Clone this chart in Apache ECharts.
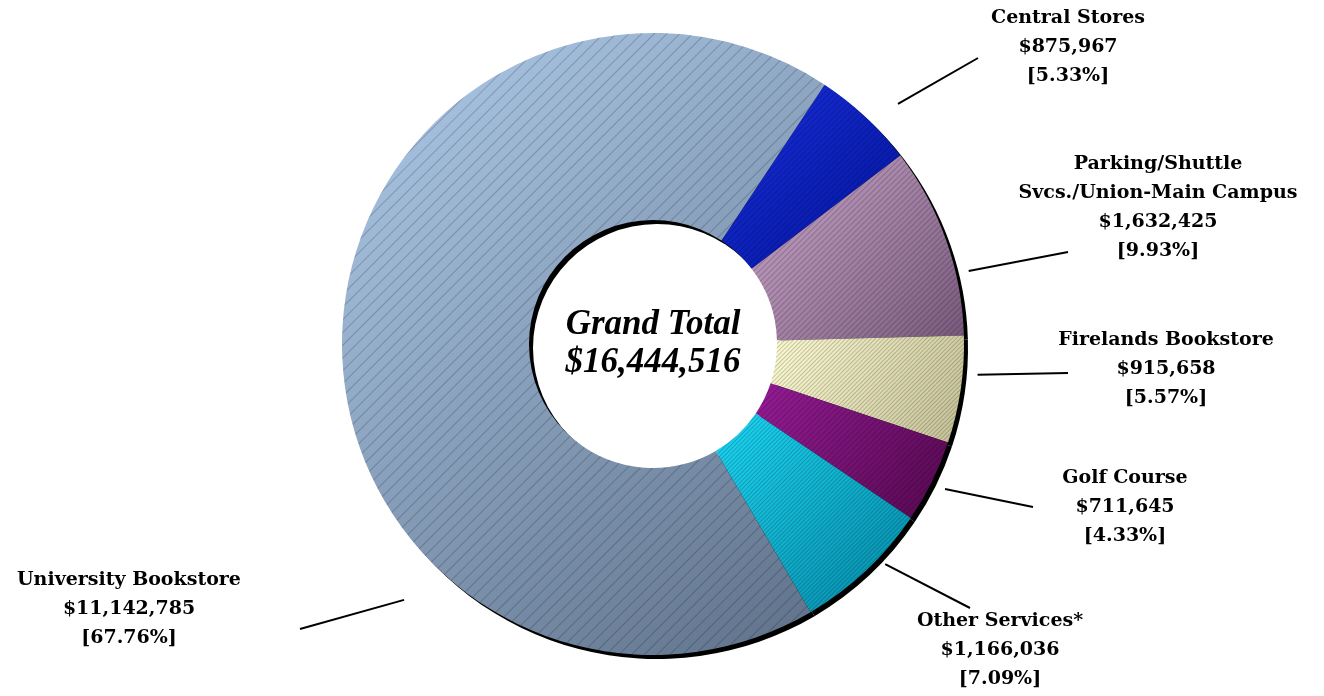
<!DOCTYPE html>
<html>
<head>
<meta charset="utf-8">
<script src="https://cdn.jsdelivr.net/npm/echarts@6/dist/echarts.min.js"></script>
<style>
html,body{margin:0;padding:0;background:#fff;}
#c{width:1324px;height:696px;}
</style>
</head>
<body>
<div id="c"></div>
<script>
// ---- data ----
const categories = ['Central Stores', 'Parking/Shuttle\nSvcs./Union-Main Campus', 'Firelands Bookstore', 'Golf Course', 'Other Services*', 'University Bookstore'];
const values = [875967, 1632425, 915658, 711645, 1166036, 11142785];
const grandTotalLabel = 'Grand Total\n$16,444,516';

// ---- style / layout ----
const colorsLight = ['#1a30e0', '#cba8cd', '#fdfbd2', '#951c96', '#1cd8f6', '#b0cdec'];
const colorsDark  = ['#00129a', '#78597c', '#c4c096', '#55084f', '#0488a6', '#5e7088'];
const hatchGap    = [3, 3, 2, 3, 2, 8];
const labelPos = [[1068, 47], [1158, 208], [1166, 369], [1125, 507], [1000, 650], [129, 609]];
const lineEnd  = [[978, 58], [1068, 252], [1068, 373], [1033, 507], [970, 608], [300, 629]];
const lineFrac = [0.63, 0.68, 0.35, 0.51, 0.37, 0.306];
const lineGap  = [32, 13, 15, 15, 9, 46];
const CX = 653, CY = 344, R = 311, RIN = 124, SHOFF = 4;
const START = 56.5; // echarts startAngle (deg, ccw from 3 o'clock)

const total = values.reduce((a, b) => a + b, 0);
const fmtMoney = v => '$' + v.toLocaleString('en-US');
// sector angles, clockwise from 12 o'clock (deg)
const sectorStart = [];
let acc = 90 - START;
values.forEach(v => { sectorStart.push(acc); acc += v / total * 360; });

function pt(thetaDeg, r) {
  const t = thetaDeg * Math.PI / 180;
  return [CX + r * Math.sin(t), CY - r * Math.cos(t)];
}

const chart = echarts.init(document.getElementById('c'), null, {renderer: 'canvas'});
const font = 'DejaVu Serif';

const option = {
  backgroundColor: '#ffffff',
  animation: false,
  series: [
    {
      type: 'pie',
      silent: true,
      center: [CX + SHOFF, CY + SHOFF],
      radius: [RIN, R],
      startAngle: START,
      z: 1,
      label: {show: false},
      labelLine: {show: false},
      itemStyle: {color: '#000', borderWidth: 0},
      data: values.map((v, i) => ({value: v, name: categories[i]}))
    },
    {
      type: 'pie',
      center: [CX, CY],
      radius: [RIN, R],
      startAngle: START,
      z: 2,
      avoidLabelOverlap: false,
      data: values.map((v, i) => ({
        value: v,
        name: categories[i],
        itemStyle: {
          borderWidth: 0,
          color: new echarts.graphic.LinearGradient(0, 0, 1, 1, [
            {offset: 0, color: colorsLight[i]},
            {offset: 1, color: colorsDark[i]}
          ]),
          decal: {
            symbol: 'rect',
            symbolSize: 1,
            color: 'rgba(0,0,0,0.2)',
            dashArrayX: [[10, 0]],
            dashArrayY: [1, hatchGap[i]],
            rotation: -Math.PI / 4
          }
        }
      })),
      label: {
        show: true,
        position: 'outside',
        color: '#000',
        fontFamily: font,
        fontWeight: 'bold',
        fontSize: 19,
        lineHeight: 29,
        align: 'center',
        formatter: p => p.name + '\n' + fmtMoney(p.value) + '\n[' + (p.value / total * 100).toFixed(2) + '%]'
      },
      labelLine: {show: true, lineStyle: {color: '#000', width: 2}},
      labelLayout: function (params) {
        const i = params.dataIndex;
        const span = values[i] / total * 360;
        const s = pt(sectorStart[i] + lineFrac[i] * span, R + lineGap[i]);
        return {
          x: labelPos[i][0],
          y: labelPos[i][1],
          align: 'center',
          verticalAlign: 'middle',
          labelLinePoints: [s, lineEnd[i], lineEnd[i]]
        };
      }
    }
  ],
  graphic: [{
    type: 'text',
    x: CX,
    y: CY,
    z: 10,
    style: {
      text: grandTotalLabel,
      fill: '#000',
      font: 'italic bold 35px "Liberation Serif"',
      lineHeight: 38,
      align: 'center',
      verticalAlign: 'middle'
    }
  }]
};
chart.setOption(option);
</script>
</body>
</html>
